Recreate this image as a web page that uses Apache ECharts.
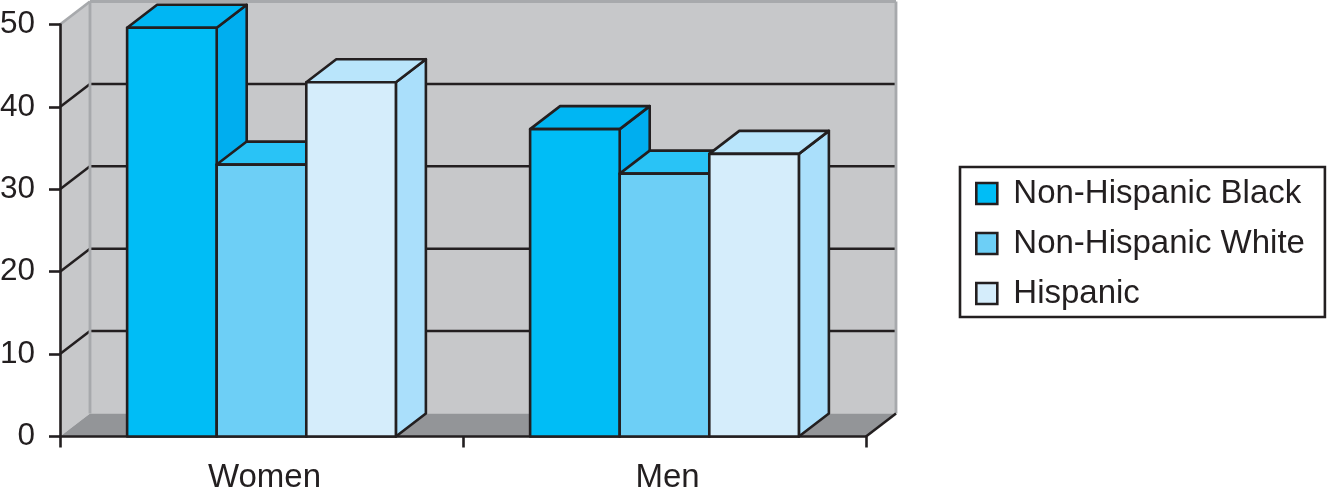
<!DOCTYPE html>
<html>
<head>
<meta charset="utf-8">
<style>
    html, body { margin: 0; padding: 0; background: #fff; }
    #chart { width: 1329px; height: 488px; }
</style>
<script src="https://cdn.jsdelivr.net/npm/echarts@6/dist/echarts.min.js"></script>
</head>
<body>
<div id="chart"></div>
<script>
// 数据
const categories = ['Women', 'Men'];
const yTicks = [0, 10, 20, 30, 40, 50];
const blackValues = [49.6, 37.3];
const whiteValues = [33.0, 31.9];
const hispanicValues = [43.0, 34.3];

// 3D 进深（像素）
const DEPTH_X = 30;
const DEPTH_Y = -23;
const BAR_RATIO = 0.2223;
const INK = '#231f20';
const EDGE = '#a7a9ac';
const STROKE = 2.6;

function poly(points, fill, stroke, z2) {
    return {
        type: 'polygon',
        z2: z2 || 0,
        shape: { points: points },
        style: { fill: fill, stroke: stroke || INK, lineWidth: stroke === 'none' ? 0 : STROKE, lineJoin: 'round' }
    };
}

function line(x1, y1, x2, y2, color, width) {
    return {
        type: 'line',
        shape: { x1: x1, y1: y1, x2: x2, y2: y2 },
        style: { stroke: color, lineWidth: width }
    };
}

// 背景墙、地面、网格线
function renderWalls(params, api) {
    const sys = params.coordSys;
    const left = sys.x;
    const right = sys.x + sys.width;
    const bottom = api.coord([0, 0])[1];
    const top = api.coord([0, 50])[1];
    const children = [
        poly([[left, top], [left + DEPTH_X, top + DEPTH_Y], [left + DEPTH_X, bottom + DEPTH_Y], [left, bottom]], '#c7c8ca', 'none'),
        poly([[left + DEPTH_X, top + DEPTH_Y], [right + DEPTH_X, top + DEPTH_Y], [right + DEPTH_X, bottom + DEPTH_Y], [left + DEPTH_X, bottom + DEPTH_Y]], '#c7c8ca', 'none'),
        poly([[left, bottom], [left + DEPTH_X, bottom + DEPTH_Y], [right + DEPTH_X, bottom + DEPTH_Y], [right, bottom]], '#939598', 'none')
    ];
    yTicks.slice(1, -1).forEach(function(v) {
        const y = api.coord([0, v])[1];
        children.push(line(left, y, left + DEPTH_X, y + DEPTH_Y, INK, 2.5));
        children.push(line(left + DEPTH_X, y + DEPTH_Y, right + DEPTH_X, y + DEPTH_Y, INK, 2.5));
    });
    children.push(line(left, top, left + DEPTH_X, top + DEPTH_Y, EDGE, 2.8));
    children.push(line(left + DEPTH_X, top + DEPTH_Y, right + DEPTH_X, top + DEPTH_Y, EDGE, 2.8));
    children.push(line(left + DEPTH_X, top + DEPTH_Y, left + DEPTH_X, bottom + DEPTH_Y, EDGE, 2.8));
    children.push(line(right + DEPTH_X, top + DEPTH_Y, right + DEPTH_X, bottom + DEPTH_Y, EDGE, 2.8));
    children.push(line(right, bottom, right + DEPTH_X, bottom + DEPTH_Y, INK, STROKE));
    return { type: 'group', children: children };
}

// 生成立方柱
function makeBarRenderer(slot, front, side, topFace) {
    return function(params, api) {
        const bandWidth = api.size([1, 0])[0];
        const barWidth = bandWidth * BAR_RATIO;
        const base = api.coord([api.value(0), 0]);
        const peak = api.coord([api.value(0), api.value(1)]);
        const x0 = base[0] + (slot - 0.5) * barWidth;
        const x1 = x0 + barWidth;
        const y0 = base[1];
        const y1 = peak[1];
        return {
            type: 'group',
            children: [
                poly([[x1, y1], [x1 + DEPTH_X, y1 + DEPTH_Y], [x1 + DEPTH_X, y0 + DEPTH_Y], [x1, y0]], side),
                poly([[x0, y1], [x0 + DEPTH_X, y1 + DEPTH_Y], [x1 + DEPTH_X, y1 + DEPTH_Y], [x1, y1]], topFace),
                poly([[x0, y1], [x1, y1], [x1, y0], [x0, y0]], front)
            ]
        };
    };
}

function toPairs(values) {
    return values.map(function(v, i) { return [i, v]; });
}

function barSeries(name, values, slot, front, side, topFace, z) {
    return {
        name: name,
        type: 'custom',
        z: z,
        itemStyle: { color: front },
        encode: { x: 0, y: 1 },
        data: toPairs(values),
        renderItem: makeBarRenderer(slot, front, side, topFace)
    };
}

const chart = echarts.init(document.getElementById('chart'));

const textFont = { fontFamily: 'Liberation Sans', fontSize: 33, color: INK };

chart.setOption({
    animation: false,
    backgroundColor: '#fff',
    grid: { left: 60, right: 463, top: 24.5, height: 412, outerBoundsMode: 'none' },
    legend: {
        orient: 'vertical',
        left: 960,
        top: 167,
        padding: [10, 20, 7, 15],
        itemGap: 17,
        itemWidth: 21,
        itemHeight: 21,
        icon: 'rect',
        borderColor: INK,
        borderWidth: 2.6,
        backgroundColor: '#fff',
        itemStyle: { borderColor: INK, borderWidth: 2.6 },
        textStyle: Object.assign({ padding: [6, 0, 0, 11] }, textFont),
        data: ['Non-Hispanic Black', 'Non-Hispanic White', 'Hispanic']
    },
    xAxis: {
        type: 'category',
        data: categories,
        z: 3,
        axisLine: { lineStyle: { color: INK, width: STROKE } },
        axisTick: { show: true, length: 11, lineStyle: { color: INK, width: STROKE } },
        axisLabel: Object.assign({ margin: 25, padding: [0, 0, 0, 6] }, textFont)
    },
    yAxis: {
        type: 'value',
        min: 0,
        max: 50,
        interval: 10,
        z: 3,
        splitLine: { show: false },
        axisLine: { show: true, lineStyle: { color: INK, width: STROKE } },
        axisTick: { show: true, length: 11, lineStyle: { color: INK, width: STROKE } },
        axisLabel: Object.assign({}, textFont, { margin: 25, fontSize: 31.5, padding: [3, 0, 0, 0] })
    },
    series: [
        {
            type: 'custom',
            z: 1,
            silent: true,
            encode: { x: 0, y: 1 },
            data: [[0, 0]],
            renderItem: renderWalls
        },
        barSeries('Non-Hispanic Black', blackValues, -1, '#00bdf6', '#00aeef', '#00b6f3', 4),
        barSeries('Non-Hispanic White', whiteValues, 0, '#6dcff6', '#29c3f6', '#29c3f6', 5),
        barSeries('Hispanic', hispanicValues, 1, '#d5edfb', '#aadffb', '#b9e5fb', 6)
    ]
});
</script>
</body>
</html>
